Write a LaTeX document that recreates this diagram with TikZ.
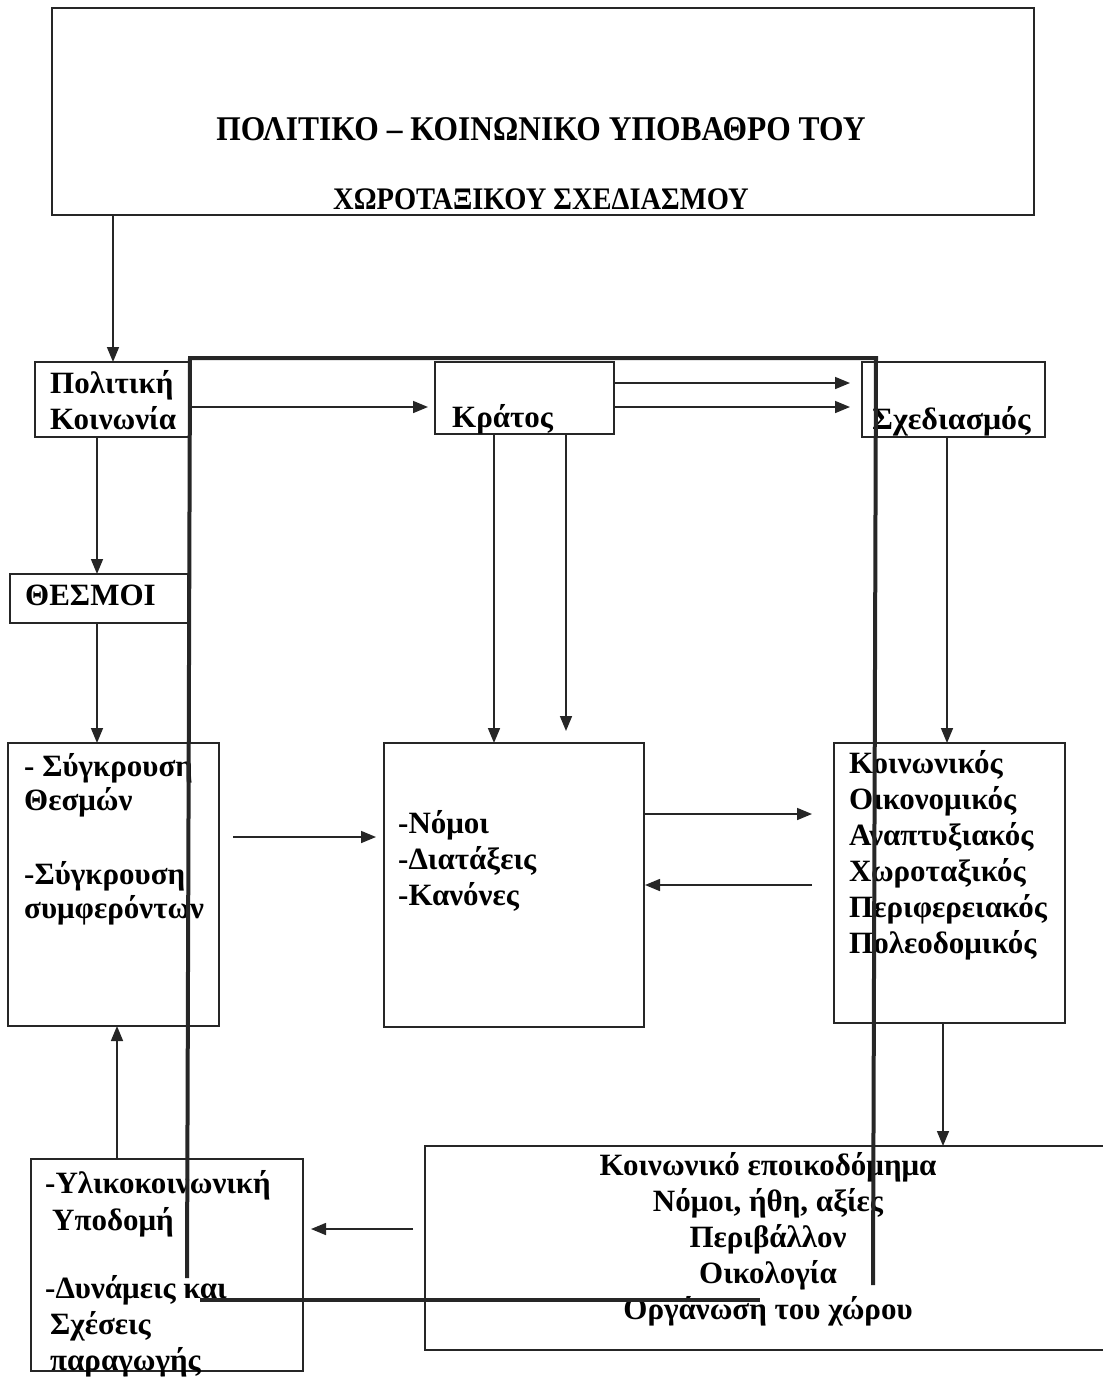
\documentclass[tikz,border=0pt]{standalone}
\usepackage{fontspec}
\setmainfont{Liberation Serif}
\usetikzlibrary{arrows.meta}
\begin{document}
\begin{tikzpicture}[x=1pt,y=-1pt,
  box/.style={draw=black!85, line width=1.6pt, inner sep=0pt, outer sep=0pt, anchor=north west},
  txt/.style={anchor=base west, inner sep=0pt, font=\fontsize{31}{36}\selectfont\bfseries},
  ctxt/.style={anchor=base, inner sep=0pt, font=\fontsize{31}{36}\selectfont\bfseries},
  arr/.style={draw=black!85, line width=1.6pt, -{Triangle[length=15pt,width=12pt]}},
  heavyline/.style={draw=black!85, line width=4pt}]
\useasboundingbox (0,0) rectangle (1103,1377);
% helper coordinates
\coordinate (c97) at (97,0);
\coordinate (c113) at (113,0);
\coordinate (c117) at (117,0);
\coordinate (c494) at (494,0);
\coordinate (c566) at (566,0);
\coordinate (c943) at (943,0);
\coordinate (c947) at (947,0);
\coordinate (r383) at (0,383);
\coordinate (r407) at (0,407);
\coordinate (r814) at (0,814);
\coordinate (r837) at (0,837);
\coordinate (r885) at (0,885);
\coordinate (r1229) at (0,1229);
% boxes
\node[box, minimum width=982pt, minimum height=207pt] (top) at (52,8) {};
\node[box, minimum width=155pt, minimum height=75pt] (pk) at (35,362) {};
\node[box, minimum width=179pt, minimum height=72pt] (kr) at (435,362) {};
\node[box, minimum width=183pt, minimum height=75pt] (sx) at (862,362) {};
\node[box, minimum width=178pt, minimum height=49pt] (th) at (10,574) {};
\node[box, minimum width=211pt, minimum height=283pt] (sy) at (8,743) {};
\node[box, minimum width=260pt, minimum height=284pt] (nm) at (384,743) {};
\node[box, minimum width=231pt, minimum height=280pt] (ko) at (834,743) {};
\node[box, minimum width=690pt, minimum height=204pt] (ke) at (425,1146) {};
\node[box, minimum width=272pt, minimum height=212pt] (yl) at (31,1159) {};
% texts
\node[ctxt, font=\fontsize{31.5}{36}\selectfont\bfseries] (t1) at (541,140) {\scalebox{1}[1.1]{ΠΟΛΙΤΙΚΟ – ΚΟΙΝΩΝΙΚΟ ΥΠΟΒΑΘΡΟ ΤΟΥ}};
\node[ctxt, font=\fontsize{28.5}{34}\selectfont\bfseries] (t2) at (541,209) {\scalebox{1}[1.1]{ΧΩΡΟΤΑΞΙΚΟΥ ΣΧΕΔΙΑΣΜΟΥ}};
\node[txt] (pk1) at (50,393) {Πολιτική};
\node[txt] (pk2) at (50,429) {Κοινωνία};
\node[txt] (kr1) at (452,427) {Κράτος};
\node[txt] (sx1) at (872,429) {\scalebox{1.03}[1]{Σχεδιασμός}};
\node[txt] (th1) at (25,605) {ΘΕΣΜΟΙ};
\node[txt] (sy1) at (24,776) {- Σύγκρουση};
\node[txt] (sy2) at (24,810) {Θεσμών};
\node[txt] (sy3) at (24,884) {-Σύγκρουση};
\node[txt] (sy4) at (24,918) {συμφερόντων};
\node[txt] (nm1) at (398,833) {-Νόμοι};
\node[txt] (nm2) at (398,869) {-Διατάξεις};
\node[txt] (nm3) at (398,905) {-Κανόνες};
\node[txt] (ko1) at (849,773) {Κοινωνικός};
\node[txt] (ko2) at (849,809) {Οικονομικός};
\node[txt] (ko3) at (849,845) {Αναπτυξιακός};
\node[txt] (ko4) at (849,881) {Χωροταξικός};
\node[txt] (ko5) at (849,917) {Περιφερειακός};
\node[txt] (ko6) at (849,953) {Πολεοδομικός};
\node[ctxt] (ke1) at (768,1175) {Κοινωνικό εποικοδόμημα};
\node[ctxt] (ke2) at (768,1211) {Νόμοι, ήθη, αξίες};
\node[ctxt] (ke3) at (768,1247) {Περιβάλλον};
\node[ctxt] (ke4) at (768,1283) {Οικολογία};
\node[ctxt] (ke5) at (768,1319) {Οργάνωση του χώρου};
\node[txt] (yl1) at (45,1193) {-Υλικοκοινωνική};
\node[txt] (yl2) at (52,1230) {Υποδομή};
\node[txt] (yl3) at (45,1298) {-Δυνάμεις και};
\node[txt] (yl4) at (50,1334) {Σχέσεις};
\node[txt] (yl5) at (50,1370) {παραγωγής};
% arrows
\draw[arr] (top.south -| c113) -- (pk.north -| c113);
\draw[arr, shorten >=7pt] (pk.east |- r407) -- (kr.west |- r407);
\draw[arr, shorten >=12pt] (kr.east |- r383) -- (sx.west |- r383);
\draw[arr, shorten >=12pt] (kr.east |- r407) -- (sx.west |- r407);
\draw[arr] (pk.south -| c97) -- (th.north -| c97);
\draw[arr] (th.south -| c97) -- (sy.north -| c97);
\draw[arr] (kr.south -| c494) -- (nm.north -| c494);
\draw[arr, shorten >=12pt] (kr.south -| c566) -- (nm.north -| c566);
\draw[arr] (sx.south -| c947) -- (ko.north -| c947);
\draw[arr, shorten <=14pt, shorten >=8pt] (sy.east |- r837) -- (nm.west |- r837);
\draw[arr, shorten >=22pt] (nm.east |- r814) -- (ko.west |- r814);
\draw[arr, shorten <=22pt, shorten >=1pt] (ko.west |- r885) -- (nm.east |- r885);
\draw[arr] (ko.south -| c943) -- (ke.north -| c943);
\draw[arr, shorten <=12pt, shorten >=8pt] (ke.west |- r1229) -- (yl.east |- r1229);
\draw[arr] (yl.north -| c117) -- (sy.south -| c117);
% heavy lines
\coordinate (h1) at (187,1278);
\coordinate (h2) at (190,358);
\coordinate (h3) at (876,358);
\coordinate (h4) at (873,1285);
\coordinate (h5) at (200,1300);
\coordinate (h6) at (760,1300);
\draw[heavyline] (h1) -- (h2) -- (h3) -- (h4);
\draw[heavyline] (h5) -- (h6);
\end{tikzpicture}
\end{document}
